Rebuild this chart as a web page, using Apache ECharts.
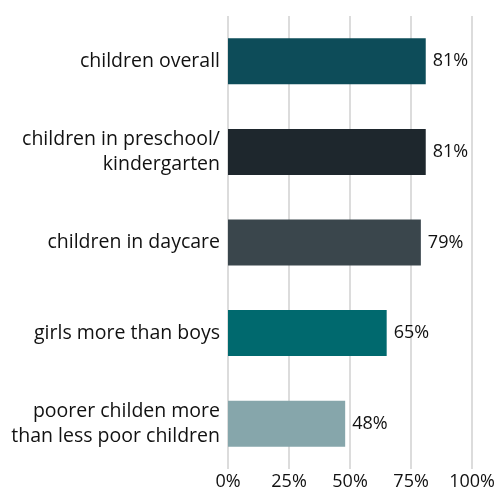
<!DOCTYPE html>
<html>
<head>
<meta charset="utf-8">
<script src="https://cdn.jsdelivr.net/npm/echarts@6/dist/echarts.min.js"></script>
<style>
  html, body { margin: 0; padding: 0; background: #fff; }
  #chart { width: 498px; height: 491px; }
</style>
</head>
<body>
<div id="chart"></div>
<script>
// data
const categories = [
  'children overall',
  'children in preschool/\nkindergarten',
  'children in daycare',
  'girls more than boys',
  'poorer childen more\nthan less poor children'
];
const values = [81, 81, 79, 65, 48];
const barColors = ['#0d4c59', '#1e272d', '#3a464c', '#00696e', '#86a6ab'];
const tickLabels = ['0%', '25%', '50%', '75%', '100%'];

const myChart = echarts.init(document.getElementById('chart'));

const option = {
  animation: false,
  textStyle: { fontFamily: 'Open Sans', color: '#111' },
  grid: {
    left: 228,
    width: 247,
    top: 16,
    height: 455,
    containLabel: false
  },
  xAxis: {
    type: 'value',
    min: 0,
    max: 100,
    interval: 25,
    axisLine: { show: false },
    axisTick: { show: false },
    splitLine: { lineStyle: { color: '#dcdcdc', width: 2 } },
    axisLabel: {
      fontSize: 18,
      color: '#111',
      margin: 4,
      formatter: function (v) { return tickLabels[v / 25]; }
    }
  },
  yAxis: {
    type: 'category',
    inverse: true,
    data: categories,
    axisLine: { show: false },
    axisTick: { show: false },
    axisLabel: {
      fontSize: 19.5,
      color: '#111',
      margin: 8,
      lineHeight: 25,
      align: 'right'
    }
  },
  series: [
    {
      type: 'bar',
      data: values.map(function (v, i) {
        return { value: v, itemStyle: { color: barColors[i] } };
      }),
      barWidth: 46,
      label: {
        show: true,
        position: 'right',
        distance: 7,
        fontSize: 18,
        color: '#111',
        formatter: '{c}%'
      }
    }
  ]
};

myChart.setOption(option);
</script>
</body>
</html>
